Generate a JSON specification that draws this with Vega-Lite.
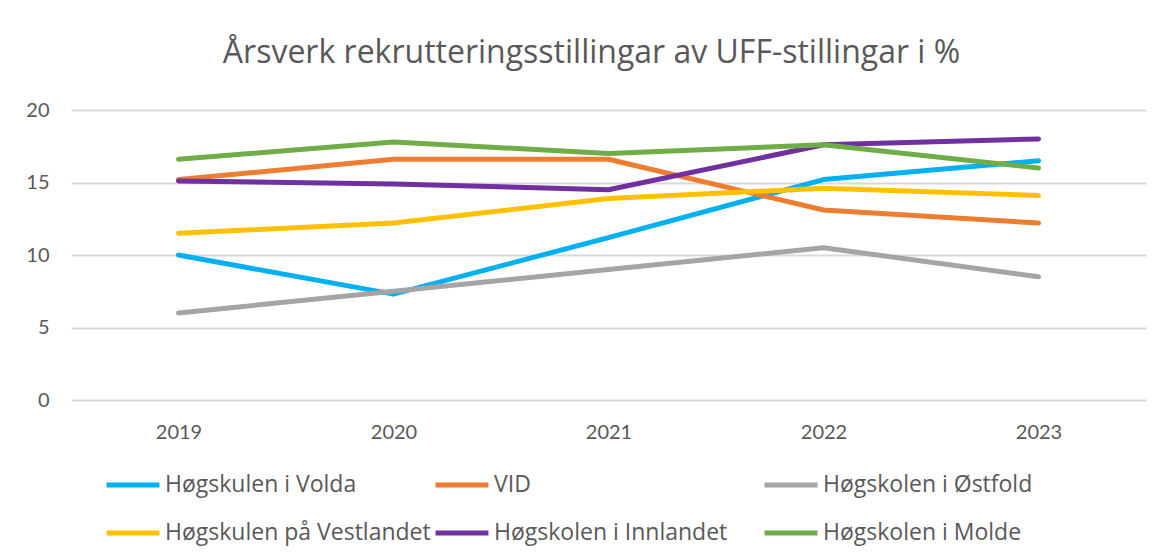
{
  "$schema": "https://vega.github.io/schema/vega-lite/v6.json",
  "width": 1075,
  "height": 290,
  "autosize": "none",
  "padding": {"left": 71, "top": 110, "right": 14, "bottom": 158},
  "background": "white",
  "title": {
    "text": "Årsverk rekrutteringsstillingar av UFF-stillingar i %",
    "font": "Open Sans",
    "fontSize": 32,
    "fontWeight": "normal",
    "color": "#595959",
    "anchor": "middle",
    "dx": -17,
    "offset": 30
  },
  "data": {
    "values": [
      {"year": "2019", "inst": "Høgskulen i Volda", "v": 10.0},
      {"year": "2020", "inst": "Høgskulen i Volda", "v": 7.3},
      {"year": "2021", "inst": "Høgskulen i Volda", "v": 11.2},
      {"year": "2022", "inst": "Høgskulen i Volda", "v": 15.2},
      {"year": "2023", "inst": "Høgskulen i Volda", "v": 16.5},
      {"year": "2019", "inst": "VID", "v": 15.2},
      {"year": "2020", "inst": "VID", "v": 16.6},
      {"year": "2021", "inst": "VID", "v": 16.6},
      {"year": "2022", "inst": "VID", "v": 13.1},
      {"year": "2023", "inst": "VID", "v": 12.2},
      {"year": "2019", "inst": "Høgskolen i Østfold", "v": 6.0},
      {"year": "2020", "inst": "Høgskolen i Østfold", "v": 7.5},
      {"year": "2021", "inst": "Høgskolen i Østfold", "v": 9.0},
      {"year": "2022", "inst": "Høgskolen i Østfold", "v": 10.5},
      {"year": "2023", "inst": "Høgskolen i Østfold", "v": 8.5},
      {"year": "2019", "inst": "Høgskulen på Vestlandet", "v": 11.5},
      {"year": "2020", "inst": "Høgskulen på Vestlandet", "v": 12.2},
      {"year": "2021", "inst": "Høgskulen på Vestlandet", "v": 13.9},
      {"year": "2022", "inst": "Høgskulen på Vestlandet", "v": 14.6},
      {"year": "2023", "inst": "Høgskulen på Vestlandet", "v": 14.1},
      {"year": "2019", "inst": "Høgskolen i Innlandet", "v": 15.1},
      {"year": "2020", "inst": "Høgskolen i Innlandet", "v": 14.9},
      {"year": "2021", "inst": "Høgskolen i Innlandet", "v": 14.5},
      {"year": "2022", "inst": "Høgskolen i Innlandet", "v": 17.6},
      {"year": "2023", "inst": "Høgskolen i Innlandet", "v": 18.0},
      {"year": "2019", "inst": "Høgskolen i Molde", "v": 16.6},
      {"year": "2020", "inst": "Høgskolen i Molde", "v": 17.8},
      {"year": "2021", "inst": "Høgskolen i Molde", "v": 17.0},
      {"year": "2022", "inst": "Høgskolen i Molde", "v": 17.6},
      {"year": "2023", "inst": "Høgskolen i Molde", "v": 16.0}
    ]
  },
  "mark": {"type": "line", "strokeWidth": 5, "strokeCap": "round", "strokeJoin": "round"},
  "encoding": {
    "x": {
      "field": "year",
      "type": "ordinal",
      "scale": {"type": "point", "padding": 0.5},
      "axis": {
        "title": null,
        "labelAngle": 0,
        "ticks": false,
        "domain": false,
        "grid": false,
        "labelFont": "Lato",
        "labelFontSize": 20,
        "labelColor": "#595959",
        "labelPadding": 22
      }
    },
    "y": {
      "field": "v",
      "type": "quantitative",
      "scale": {"domain": [0, 20], "nice": false},
      "axis": {
        "title": null,
        "values": [0, 5, 10, 15, 20],
        "ticks": false,
        "domain": false,
        "grid": true,
        "gridColor": "#D9D9D9",
        "gridWidth": 2,
        "labelFont": "Lato",
        "labelFontSize": 20,
        "labelColor": "#595959",
        "labelPadding": 22
      }
    },
    "color": {
      "field": "inst",
      "type": "nominal",
      "sort": null,
      "scale": {
        "domain": ["Høgskulen i Volda", "VID", "Høgskolen i Østfold", "Høgskulen på Vestlandet", "Høgskolen i Innlandet", "Høgskolen i Molde"],
        "range": ["#00B0F0", "#ED7D31", "#A5A5A5", "#FFC000", "#7030A0", "#70AD47"]
      },
      "legend": {
        "title": null,
        "orient": "none",
        "legendX": 33,
        "legendY": 346,
        "direction": "horizontal",
        "columns": 3,
        "gridAlign": "all",
        "columnPadding": -6,
        "rowPadding": 7,
        "symbolType": "stroke",
        "symbolSize": 2800,
        "symbolStrokeWidth": 5,
        "labelFont": "Open Sans",
        "labelFontSize": 23,
        "labelColor": "#595959",
        "labelOffset": 3,
        "labelLimit": 400
      }
    }
  },
  "config": {
    "view": {"stroke": null}
  }
}
